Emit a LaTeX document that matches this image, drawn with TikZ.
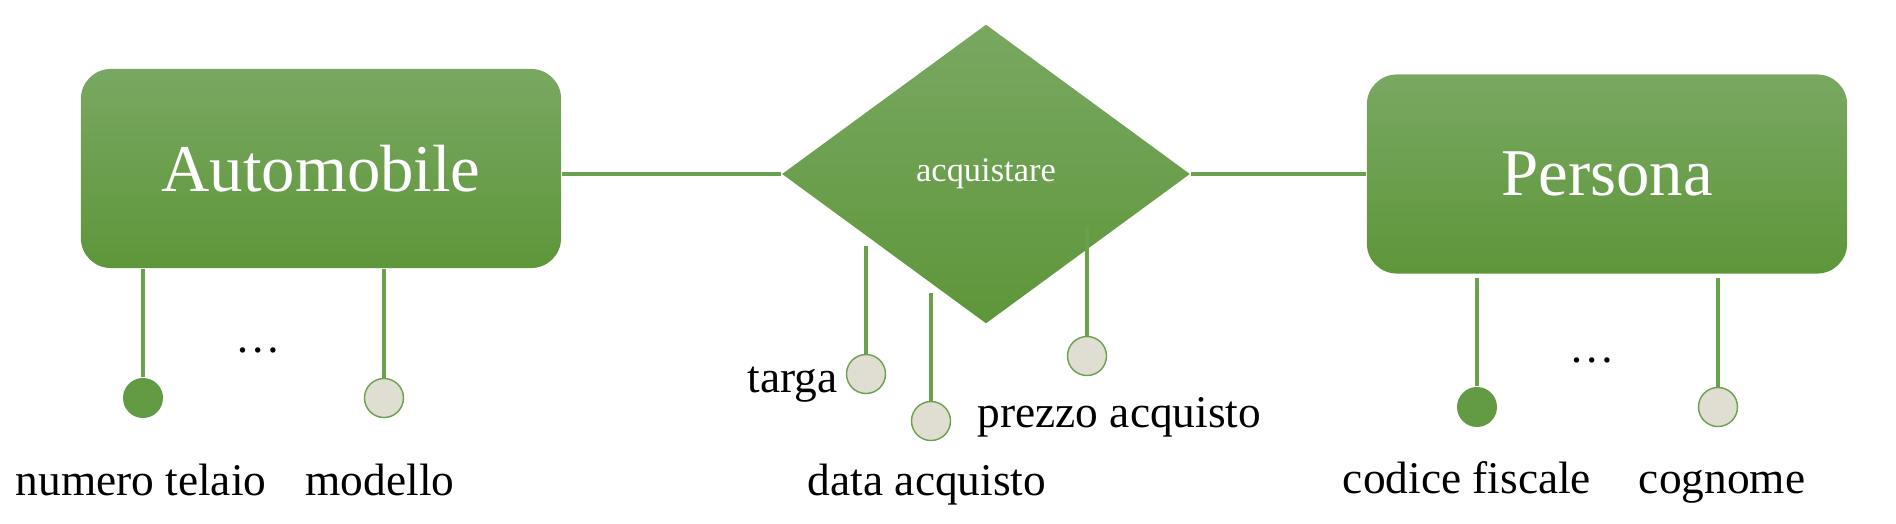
\documentclass[tikz,border=0pt]{standalone}
\usepackage{fontspec}
\setmainfont{Liberation Serif}
\usetikzlibrary{shapes.geometric}

\definecolor{verdeTop}{RGB}{121,168,97}
\definecolor{verdeBot}{RGB}{94,150,58}
\definecolor{verde}{RGB}{99,155,69}
\definecolor{linea}{RGB}{106,161,76}
\definecolor{grigio}{RGB}{224,221,211}

\begin{document}
\begin{tikzpicture}[x=0.01cm,y=-0.01cm,
	entita/.style={rectangle, rounded corners=0.3cm, minimum width=4.8cm, minimum height=1.99cm, top color=verdeTop, bottom color=verdeBot, draw=none, text=white, font=\fontsize{19}{22}\selectfont},
	relazione/.style={diamond, minimum width=4.08cm, minimum height=2.99cm, inner sep=0pt, top color=verdeTop, bottom color=verdeBot, draw=none, text=white, font=\fontsize{9.8}{11}\selectfont},
	chiave/.style={circle, minimum size=0.4cm, inner sep=0pt, fill=verde},
	attributo/.style={circle, minimum size=0.39cm, inner sep=0pt, fill=grigio, draw=linea, line width=0.4pt},
	etichetta/.style={inner sep=0pt, font=\fontsize{12.9}{15}\selectfont},
	collega/.style={draw=linea, line width=1.05pt}
]

	\useasboundingbox (0,0) rectangle (1896,524);

	\def\yAuto{398}
	\def\yPers{407}
	\def\yLab{495}

	%ENTITA E RELAZIONE
	\node[entita] (auto) at (321,168.5) {Automobile};
	\node[entita] (pers) at (1607,174) {Persona};
	\node[relazione] (acq) at (986,174) {acquistare};

	\draw[collega] (acq.west -| auto.east) -- (acq.west);
	\draw[collega] (acq.east) -- (acq.east -| pers.west);

	%ATTRIBUTI: AUTOMOBILE
	\node[chiave] (numtel) at (143,\yAuto) {};
	\node[attributo] (modello) at (384,\yAuto) {};
	\draw[collega] (numtel) -- (numtel |- auto.south);
	\draw[collega] (modello) -- (modello |- auto.south);

	%ATTRIBUTI: ACQUISTARE
	\node[attributo] (targa) at (866,374) {};
	\node[attributo] (data) at (931,421) {};
	\node[attributo] (prezzo) at (1087,356) {};
	\coordinate (targaTop) at (866,246);
	\coordinate (dataTop) at (931,293);
	\coordinate (prezzoTop) at (1087,227);
	\draw[collega] (targa) -- (targaTop);
	\draw[collega] (data) -- (dataTop);
	\draw[collega] (prezzo) -- (prezzoTop);

	%ATTRIBUTI: PERSONA
	\node[chiave] (codfis) at (1477,\yPers) {};
	\node[attributo] (cognome) at (1718,\yPers) {};
	\coordinate (codfisTop) at (1477,278);
	\coordinate (cognomeTop) at (1718,278);
	\draw[collega] (codfis) -- (codfisTop);
	\draw[collega] (cognome) -- (cognomeTop);

	%LABELS
	\node[etichetta, anchor=base] (lnumtel) at (141,\yLab) {numero telaio};
	\node[etichetta, anchor=base] (lmodello) at (380,\yLab) {modello};
	\node[etichetta, anchor=base east] (ltarga) at (838,392) {targa};
	\node[etichetta, anchor=base] (ldata) at (927,\yLab) {data acquisto};
	\node[etichetta, anchor=base west] (lprezzo) at (977,427) {prezzo acquisto};
	\node[etichetta, anchor=base] (lcodfis) at (1467,493) {codice fiscale};
	\node[etichetta, anchor=base] (lcognome) at (1722,493) {cognome};

	%PUNTI
	\node[etichetta, anchor=base] (puntiAuto) at (258,352) {\dots};
	\node[etichetta, anchor=base] (puntiPers) at (1592,362) {\dots};

\end{tikzpicture}
\end{document}
